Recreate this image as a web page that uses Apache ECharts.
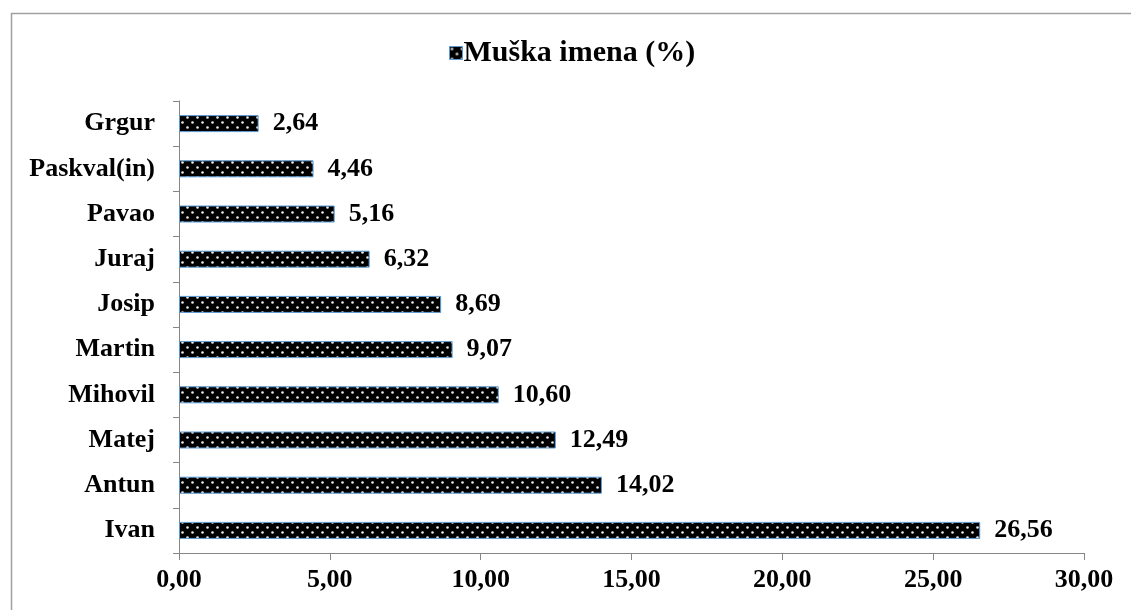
<!DOCTYPE html>
<html>
<head>
<meta charset="utf-8">
<script src="https://cdn.jsdelivr.net/npm/echarts@6/dist/echarts.min.js"></script>
<style>
html,body{margin:0;padding:0;background:#fff;}
#chart{width:1131px;height:610px;}
</style>
</head>
<body>
<div id="chart"></div>
<script>
const categories = ['Ivan','Antun','Matej','Mihovil','Martin','Josip','Juraj','Pavao','Paskval(in)','Grgur'];
const values = [26.56,14.02,12.49,10.60,9.07,8.69,6.32,5.16,4.46,2.64];
const seriesName = 'Muška imena (%)';
const xTicks = [0,5,10,15,20,25,30];

function makePattern(){
  const c = document.createElement('canvas');
  c.width = 10; c.height = 10;
  const ctx = c.getContext('2d');
  ctx.fillStyle = '#000';
  ctx.fillRect(0,0,10,10);
  ctx.fillStyle = '#eeeeee';
  ctx.beginPath(); ctx.arc(2.5,2.5,1.3,0,Math.PI*2); ctx.fill();
  ctx.beginPath(); ctx.arc(7.5,7.5,1.3,0,Math.PI*2); ctx.fill();
  return c;
}
const pat = {image: makePattern(), repeat: 'repeat'};
const fmt = v => Number(v).toFixed(2).replace('.', ',');
const font = '"Liberation Serif", "Times New Roman", serif';

const chart = echarts.init(document.getElementById('chart'));
chart.setOption({
  animation: false,
  backgroundColor: '#fff',
  graphic: [{
    type: 'rect', left: 9, top: 11, shape: {width: 1200, height: 700},
    style: {fill: 'none', stroke: '#a0a0a0', lineWidth: 1.5}, silent: true, z: -1
  }],
  legend: {
    top: 33, left: 444,
    icon: 'rect', itemWidth: 13, itemHeight: 13, itemGap: 4,
    data: [{name: seriesName, itemStyle: {color: pat, borderColor: '#5b9bd5', borderWidth: 1}}],
    textStyle: {fontFamily: font, fontWeight: 'bold', fontSize: 30, color: '#000', padding: [0,0,0,-4]}
  },
  grid: {left: 179, right: 47, top: 101, bottom: 57, containLabel: false},
  xAxis: {
    type: 'value', min: 0, max: 30, interval: 5,
    axisLine: {show: true, lineStyle: {color: '#868686', width: 1}},
    axisTick: {show: true, length: 7, lineStyle: {color: '#868686'}},
    splitLine: {show: false},
    axisLabel: {formatter: fmt, fontFamily: font, fontWeight: 'bold', fontSize: 26, color: '#000', margin: 14}
  },
  yAxis: {
    type: 'category', data: categories,
    axisLine: {show: true, lineStyle: {color: '#868686', width: 1}},
    axisTick: {show: true, length: 6, lineStyle: {color: '#868686'}},
    axisLabel: {fontFamily: font, fontWeight: 'bold', fontSize: 26, color: '#000', margin: 24}
  },
  series: [{
    name: seriesName, type: 'bar', data: values, barWidth: 17,
    itemStyle: {color: pat, borderColor: '#5b9bd5', borderWidth: 1},
    label: {show: true, position: 'right', distance: 14, formatter: p => fmt(p.value),
      fontFamily: font, fontWeight: 'bold', fontSize: 26, color: '#000'}
  }]
});
</script>
</body>
</html>
